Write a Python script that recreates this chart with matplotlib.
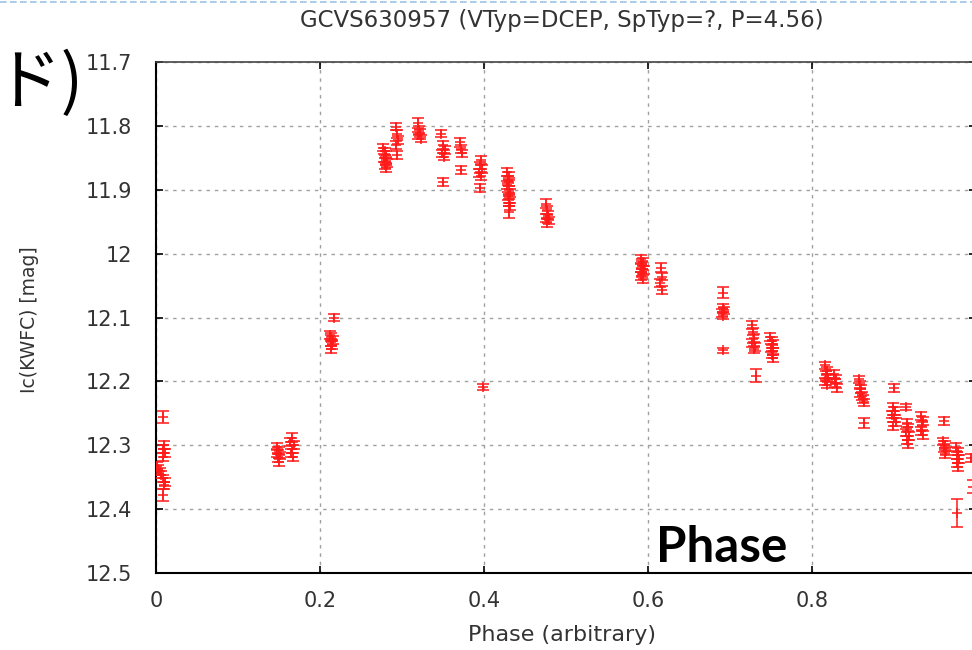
import matplotlib
matplotlib.use("Agg")
import matplotlib.pyplot as plt
from matplotlib.lines import Line2D

# ---------------- data ----------------
phase = [
    0.008, 0.010, 0.009, 0.011, 0.008, 0.001, 0.003, 0.005, 0.006, 0.009, 0.011, 0.010, 0.009,
    0.148, 0.150, 0.147, 0.151, 0.149, 0.150,
    0.166, 0.164, 0.168, 0.166, 0.165, 0.167,
    0.217, 0.212, 0.214, 0.216, 0.213, 0.215, 0.214,
    0.277, 0.279, 0.281, 0.278, 0.280, 0.282, 0.279, 0.281,
    0.293, 0.294, 0.295, 0.293, 0.294,
    0.320, 0.321, 0.322, 0.320, 0.323,
    0.348, 0.350, 0.352, 0.349, 0.351, 0.350,
    0.371, 0.372, 0.373, 0.372,
    0.396, 0.395, 0.397, 0.394, 0.396, 0.395,
    0.399,
    0.428, 0.430, 0.429, 0.431, 0.428, 0.430, 0.432, 0.429, 0.431, 0.430, 0.432, 0.431,
    0.476, 0.477, 0.478, 0.476, 0.479, 0.477,
    0.592, 0.594, 0.593, 0.591, 0.595, 0.593, 0.592, 0.594,
    0.616, 0.617, 0.615, 0.617,
    0.691, 0.692, 0.693, 0.690, 0.692, 0.692,
    0.727, 0.728, 0.729, 0.727, 0.730, 0.729, 0.732,
    0.749, 0.751, 0.752, 0.750, 0.753, 0.751, 0.752,
    0.816, 0.818, 0.817, 0.819, 0.816, 0.818,
    0.827, 0.829, 0.828, 0.830,
    0.857, 0.858, 0.860, 0.859, 0.861, 0.862, 0.864, 0.863,
    0.900, 0.899, 0.901, 0.898, 0.900, 0.902, 0.899,
    0.915, 0.916, 0.917, 0.915, 0.918, 0.916, 0.917,
    0.933, 0.935, 0.934, 0.933, 0.935,
    0.961, 0.960, 0.962, 0.961, 0.963, 0.962,
    0.976, 0.978, 0.977, 0.979, 0.977, 0.978, 0.977,
    0.994, 0.996,
]

mag = [
    12.256, 12.300, 12.306, 12.312, 12.318, 12.332, 12.337, 12.341, 12.346, 12.352, 12.358, 12.363, 12.378,
    12.302, 12.308, 12.312, 12.316, 12.320, 12.326,
    12.288, 12.295, 12.300, 12.306, 12.312, 12.318,
    12.100, 12.127, 12.131, 12.135, 12.139, 12.143, 12.150,
    11.834, 11.840, 11.845, 11.850, 11.855, 11.858, 11.862, 11.866,
    11.801, 11.813, 11.822, 11.830, 11.846,
    11.796, 11.806, 11.811, 11.815, 11.820,
    11.812, 11.830, 11.838, 11.843, 11.848, 11.888,
    11.826, 11.836, 11.843, 11.869,
    11.853, 11.862, 11.868, 11.874, 11.878, 11.897,
    12.209,
    11.872, 11.878, 11.884, 11.888, 11.893, 11.900, 11.905, 11.910, 11.915, 11.920, 11.926, 11.935,
    11.922, 11.932, 11.940, 11.944, 11.948, 11.952,
    12.008, 12.013, 12.018, 12.022, 12.026, 12.030, 12.035, 12.040,
    12.022, 12.036, 12.046, 12.057,
    12.061, 12.085, 12.089, 12.093, 12.097, 12.151,
    12.112, 12.122, 12.132, 12.140, 12.146, 12.150, 12.191,
    12.131, 12.137, 12.142, 12.148, 12.153, 12.158, 12.163,
    12.175, 12.183, 12.190, 12.195, 12.200, 12.205,
    12.188, 12.196, 12.203, 12.210,
    12.197, 12.205, 12.212, 12.218, 12.223, 12.228, 12.233, 12.265,
    12.210, 12.240, 12.246, 12.252, 12.258, 12.264, 12.270,
    12.240, 12.265, 12.272, 12.280, 12.286, 12.292, 12.298,
    12.254, 12.262, 12.270, 12.278, 12.284,
    12.262, 12.294, 12.299, 12.304, 12.309, 12.314,
    12.303, 12.310, 12.316, 12.322, 12.328, 12.334, 12.406,
    12.320, 12.365,
]

err = [
    0.009, 0.006, 0.006, 0.006, 0.006, 0.006, 0.006, 0.006, 0.006, 0.006, 0.006, 0.006, 0.010,
    0.006, 0.006, 0.006, 0.006, 0.006, 0.006,
    0.007, 0.006, 0.006, 0.006, 0.006, 0.006,
    0.005, 0.006, 0.006, 0.006, 0.006, 0.006, 0.006,
    0.006, 0.006, 0.006, 0.006, 0.006, 0.006, 0.006, 0.006,
    0.006, 0.006, 0.006, 0.006, 0.006,
    0.008, 0.006, 0.006, 0.006, 0.006,
    0.005, 0.006, 0.006, 0.006, 0.006, 0.006,
    0.007, 0.006, 0.006, 0.006,
    0.006, 0.006, 0.006, 0.006, 0.006, 0.006,
    0.005,
    0.006, 0.006, 0.006, 0.006, 0.006, 0.006, 0.006, 0.006, 0.006, 0.006, 0.006, 0.010,
    0.007, 0.006, 0.006, 0.006, 0.006, 0.006,
    0.006, 0.006, 0.006, 0.006, 0.006, 0.006, 0.006, 0.006,
    0.007, 0.006, 0.006, 0.006,
    0.008, 0.006, 0.006, 0.006, 0.006, 0.004,
    0.006, 0.006, 0.006, 0.006, 0.006, 0.006, 0.010,
    0.006, 0.006, 0.006, 0.006, 0.006, 0.006, 0.006,
    0.006, 0.006, 0.006, 0.006, 0.006, 0.006,
    0.006, 0.006, 0.006, 0.006,
    0.006, 0.006, 0.006, 0.006, 0.006, 0.006, 0.006, 0.008,
    0.006, 0.006, 0.006, 0.006, 0.006, 0.006, 0.006,
    0.005, 0.006, 0.006, 0.006, 0.006, 0.006, 0.006,
    0.006, 0.006, 0.006, 0.006, 0.006,
    0.007, 0.006, 0.006, 0.006, 0.006, 0.006,
    0.006, 0.006, 0.006, 0.006, 0.006, 0.006, 0.022,
    0.007, 0.010,
]

x_ticks = [0, 0.2, 0.4, 0.6, 0.8, 1.0]
x_tick_labels = ["0", "0.2", "0.4", "0.6", "0.8", "1"]
y_ticks = [11.7, 11.8, 11.9, 12.0, 12.1, 12.2, 12.3, 12.4, 12.5]
y_tick_labels = ["11.7", "11.8", "11.9", "12", "12.1", "12.2", "12.3", "12.4", "12.5"]

title = "GCVS630957 (VTyp=DCEP, SpTyp=?, P=4.56)"
xlabel = "Phase (arbitrary)"
ylabel = "Ic(KWFC) [mag]"

# ---------------- figure ----------------
W, H = 972, 650
fig = plt.figure(figsize=(W / 100, H / 100), dpi=100)
fig.patch.set_facecolor("white")

L, R, T, B = 156, 976, 62, 573
ax = fig.add_axes([L / W, 1 - B / H, (R - L) / W, (B - T) / H])

ax.errorbar(phase, mag, yerr=err, fmt="+", color="#ff1a1a", ecolor="#ff1a1a",
            elinewidth=1.1, capsize=4.5, capthick=1.1, markersize=7.5, mew=1.1, zorder=3)

ax.set_xlim(0, 1)
ax.set_ylim(12.5, 11.7)
ax.set_xticks(x_ticks)
ax.set_xticklabels(x_tick_labels)
ax.set_yticks(y_ticks)
ax.set_yticklabels(y_tick_labels)

txtcol = "#333333"
ax.tick_params(axis="both", which="major", direction="in", length=5, width=1.2,
               colors="black", labelcolor=txtcol, labelsize=15,
               top=True, right=True)
ax.tick_params(axis="y", pad=17)
ax.tick_params(axis="x", pad=13)
for lab in ax.get_xticklabels() + ax.get_yticklabels():
    lab.set_family("DejaVu Sans")

ax.grid(True, color="#a0a0a0", linestyle=(0, (2.5, 3.5)), linewidth=1.0, zorder=0)
ax.set_axisbelow(True)

for side in ["left", "bottom"]:
    ax.spines[side].set_linewidth(1.5)
    ax.spines[side].set_color("black")
for side in ["top", "right"]:
    ax.spines[side].set_linewidth(1.2)
    ax.spines[side].set_color("#444444")

ax.set_xlabel(xlabel, fontsize=16, color=txtcol, family="DejaVu Sans")
ax.xaxis.set_label_coords((562 - L) / (R - L), (B - 625) / (B - T))
ax.set_ylabel(ylabel, fontsize=13.5, color=txtcol, family="DejaVu Sans")
ax.yaxis.set_label_coords((39 - L) / (R - L), (B - 320) / (B - T))

fig.text(562 / W, 1 - 20 / H, title, ha="center", va="center",
         fontsize=16.5, color=txtcol, family="DejaVu Sans")

# slide decorations
fig.add_artist(Line2D([0, 1], [1 - 2 / H, 1 - 2 / H], transform=fig.transFigure,
                      color="#9dc3e6", linestyle=(0, (4, 2)), linewidth=1.2))
fig.text(83 / W, 1 - 84 / H, "ド)", ha="right", va="center", fontsize=48,
         color="black", family=["Noto Sans CJK JP", "DejaVu Sans"])
fig.text(656 / W, 1 - 562 / H, "Phase", ha="left", va="baseline", fontsize=35.5,
         fontweight="bold", color="black", family=["Lato", "DejaVu Sans"])

fig.savefig("out.png", dpi=100, facecolor="white")
